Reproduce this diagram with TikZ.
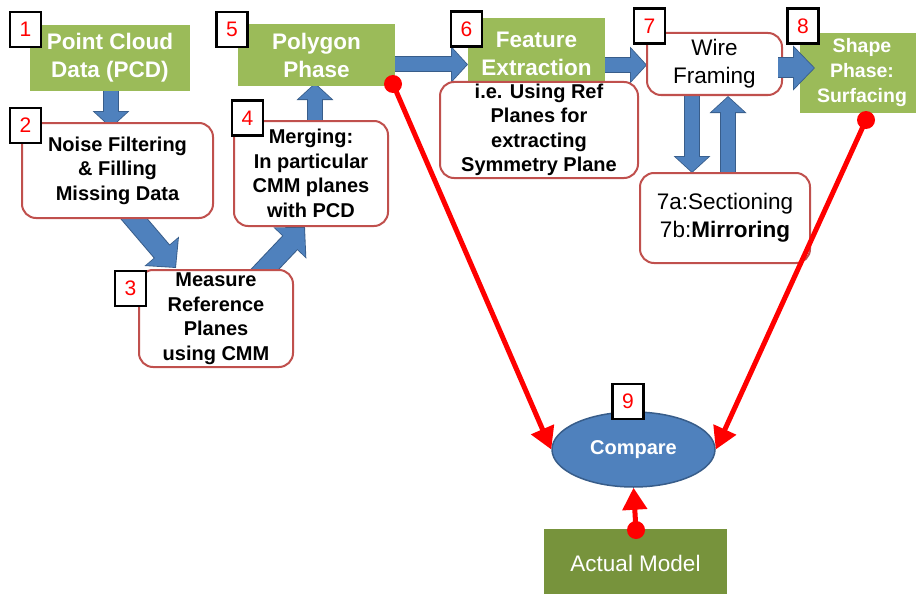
\documentclass[tikz,border=0pt]{standalone}
\usepackage{fontspec}
\setmainfont{Liberation Sans}
\usetikzlibrary{arrows.meta,shapes.geometric}
\definecolor{gr}{HTML}{9BBB59}
\definecolor{dgr}{HTML}{77933C}
\definecolor{ba}{HTML}{4F81BD}
\definecolor{bab}{HTML}{385D8A}
\definecolor{rb}{HTML}{C0504D}
\newcommand\barrow[3]{\draw[#1out] #2 -- #3; \draw[#1in] #2 -- #3;}
\begin{document}
\begin{tikzpicture}[x=1pt,y=-1pt,
  gbox/.style={fill=gr, text=white, font=\bfseries\fontsize{22.5}{28}\selectfont, align=center, inner sep=0pt},
  rbox/.style={draw=rb, line width=2pt, fill=white, rounded corners=14pt, align=center, inner sep=0pt, font=\bfseries\fontsize{20}{24.5}\selectfont},
  lab/.style={draw=black, line width=2.5pt, fill=white, minimum width=31pt, minimum height=35pt, inner sep=0pt, text=red, font=\fontsize{21}{21}\selectfont},
  blkout/.style={draw=bab, line width=16pt, -{Triangle[length=17pt,width=36pt]}},
  blkin/.style={draw=ba, line width=14pt, shorten >=1.2pt, -{Triangle[length=15pt,width=32pt]}},
  bigout/.style={draw=bab, line width=21pt, -{Triangle[length=22pt,width=44pt]}},
  bigin/.style={draw=ba, line width=19pt, shorten >=1.2pt, -{Triangle[length=20pt,width=40pt]}},
  redl/.style={draw=red, line width=5pt, -{Triangle[length=22pt,width=24pt]}},
  ]
\useasboundingbox (0,0) rectangle (916,594);
% arrow end coordinates
\coordinate (t12) at (111,91);
\coordinate (h12) at (111,128);
\coordinate (t23) at (118,200);
\coordinate (h23) at (176,268);
\coordinate (t34) at (250,285);
\coordinate (h34) at (305,227);
\coordinate (t45) at (315,121);
\coordinate (h45) at (315,83);
\coordinate (t56) at (390,64.5);
\coordinate (h56) at (468,64.5);
\coordinate (t67) at (600,65);
\coordinate (h67) at (647,65);
\coordinate (t78) at (778,68);
\coordinate (h78) at (815,68);
\coordinate (t7d) at (692,95);
\coordinate (h7d) at (692,173);
\coordinate (t7u) at (728,173);
\coordinate (h7u) at (728,96);
% block arrows
\barrow{blk}{(t12)}{(h12)}
\barrow{big}{(t23)}{(h23)}
\barrow{big}{(t34)}{(h34)}
\barrow{blk}{(t45)}{(h45)}
\barrow{blk}{(t56)}{(h56)}
\barrow{blk}{(t67)}{(h67)}
\barrow{blk}{(t7d)}{(h7d)}
\barrow{blk}{(t7u)}{(h7u)}
% boxes
\node[gbox, minimum width=160pt, minimum height=66pt] (g1) at (110,58) {Point Cloud\\Data (PCD)};
\node[rbox, minimum width=191pt, minimum height=95pt] (b2) at (117.5,170.5) {Noise Filtering\\\& Filling\\Missing Data};
\node[rbox, minimum width=154pt, minimum height=97pt] (b3) at (216,318.5) {Measure\\Reference\\Planes\\using CMM};
\node[rbox, minimum width=154pt, minimum height=105pt] (b4) at (311,173.5) {Merging:\\In particular\\CMM planes\\with PCD};
\node[gbox, minimum width=157pt, minimum height=62pt] (g5) at (316.5,55) {Polygon\\Phase};
\node[gbox, minimum width=137pt, minimum height=72pt] (g6) at (536.5,54) {Feature\\Extraction};
\node[rbox, minimum width=198pt, minimum height=96pt] (b6) at (539,130) {i.e. Using Ref\\Planes for\\extracting\\Symmetry Plane};
\node[rbox, minimum width=135pt, minimum height=62pt, font=\fontsize{22.5}{28}\selectfont] (b7) at (714.5,64) {Wire\\Framing};
\node[gbox, minimum width=124pt, minimum height=80pt, font=\bfseries\fontsize{19.5}{25}\selectfont] (g8) at (862,73) {Shape\\Phase:\\Surfacing};
\barrow{big}{(t78)}{(h78)}
\node[rbox, minimum width=170pt, minimum height=90pt, font=\fontsize{22.5}{28}\selectfont] (b7ab) at (725,218) {7a:Sectioning\\7b:\textbf{Mirroring}};
\node[ellipse, draw=bab, line width=1.5pt, fill=ba, minimum width=163pt, minimum height=75pt, inner sep=0pt, text=white, font=\bfseries\fontsize{20}{24}\selectfont] (e) at (633.5,449.5) {Compare};
\node[fill=dgr, minimum width=183pt, minimum height=68pt, inner sep=0pt, text=white, font=\fontsize{22.5}{28}\selectfont] (am) at (635.5,563) {Actual Model};
% red lines
\coordinate (d5) at (393,84);
\coordinate (d8) at (866,120);
\coordinate (d9) at (636,530);
\draw[redl] (d5) -- (e.west);
\draw[redl] (d8) -- (e.east);
\draw[redl] (d9) -- (e.south);
\fill[red] (d5) circle (9pt);
\fill[red] (d8) circle (9pt);
\fill[red] (d9) circle (9pt);
% number labels
\node[lab] (l1) at (25.5,29.5) {1};
\node[lab] (l2) at (25.5,125.5) {2};
\node[lab] (l3) at (130.5,288.5) {3};
\node[lab] (l4) at (247.5,118) {4};
\node[lab] (l5) at (232,29.5) {5};
\node[lab] (l6) at (466.5,29) {6};
\node[lab] (l7) at (649.5,26) {7};
\node[lab] (l8) at (803,26) {8};
\node[lab] (l9) at (628,401.5) {9};
\end{tikzpicture}
\end{document}
